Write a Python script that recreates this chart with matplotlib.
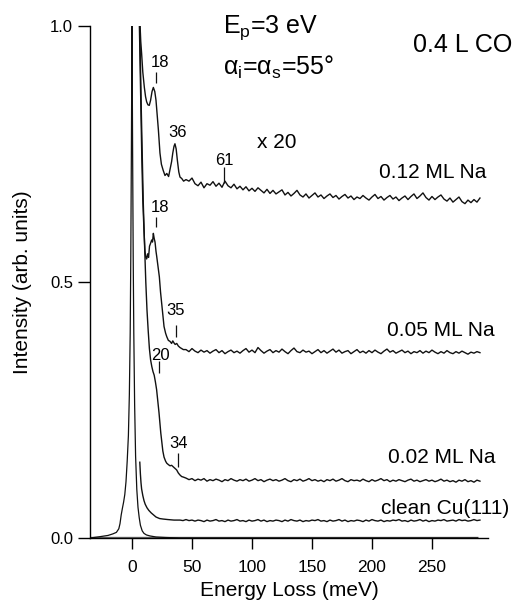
import matplotlib.pyplot as plt
import numpy as np

plt.rcParams["font.family"] = ["Liberation Sans", "DejaVu Sans"]
plt.rcParams["mathtext.fontset"] = "custom"
plt.rcParams["mathtext.rm"] = "Liberation Sans"
plt.rcParams["mathtext.it"] = "Liberation Sans:italic"
plt.rcParams["mathtext.default"] = "regular"

# elastic peak of clean Cu(111), x1
elastic_x = [-35, -27, -20, -16, -13, -11, -10, -9, -8, -7, -6, -5, -4, -3, -2.2, -1.5, -1.0, -0.5, 0,
             0.5, 1.0, 1.5, 2.2, 3, 4, 5, 6, 7, 8.5, 10, 12, 15, 20, 28, 40, 288]
elastic_y = [0, 0.0025, 0.005, 0.008, 0.011, 0.018, 0.028, 0.045, 0.058, 0.07, 0.085, 0.11, 0.15, 0.2,
             0.28, 0.40, 0.55, 0.76, 1.0, 0.76, 0.55, 0.40, 0.26, 0.16, 0.095, 0.06, 0.04, 0.025,
             0.014, 0.009, 0.006, 0.004, 0.002, 0.001, 0.0, 0.0]

# x20 spectra, steep part near the elastic peak
head_012_x = [6.0, 6.7, 7.3, 8.0, 9.0, 10.3, 11.3, 12.2, 13.3, 14.4, 15.5, 16.7, 17.8, 19.0, 20.0, 21.0,
              22.0, 23.3, 24.5, 26.0, 27.5, 29.0, 30.5, 31.7, 33.0, 34.0, 35.0, 35.8, 36.8, 37.8, 39.0,
              40.0, 41.5, 43.0]
head_012_y = [1.04, 1.0, 0.97, 0.947, 0.91, 0.88, 0.862, 0.852, 0.846, 0.845, 0.855, 0.872, 0.88, 0.872,
              0.855, 0.825, 0.797, 0.752, 0.73, 0.718, 0.708, 0.712, 0.706, 0.72, 0.735, 0.752, 0.765,
              0.77, 0.76, 0.738, 0.715, 0.705, 0.702, 0.697]

head_005_x = [6.0, 6.7, 7.5, 8.2, 9.0, 10.0, 10.8, 11.5, 12.2, 13.0, 13.8, 14.6, 15.4, 16.4, 17.1, 17.8,
              18.5, 19.2, 20.0, 20.6, 21.7, 22.8, 23.8, 24.7, 25.7, 26.7, 28.0, 29.0, 30.3, 31.7, 33.0,
              34.0, 35.0, 36.0, 37.3, 38.6, 40.0, 41.4, 42.8]
head_005_y = [1.02, 0.93, 0.83, 0.74, 0.66, 0.60, 0.56, 0.548, 0.545, 0.555, 0.548, 0.57, 0.575, 0.582,
              0.578, 0.595, 0.585, 0.578, 0.56, 0.55, 0.53, 0.51, 0.48, 0.459, 0.435, 0.413, 0.40, 0.393,
              0.386, 0.384, 0.38, 0.385, 0.381, 0.378, 0.38, 0.375, 0.372, 0.37, 0.368]

head_002_x = [6.3, 7.0, 7.8, 8.6, 9.4, 10.5, 11.5, 12.5, 13.5, 14.5, 15.5, 16.5, 17.5, 18.5, 19.5, 20.5,
              21.5, 22.5, 23.3, 24.0, 24.7, 25.7, 26.7, 28.0, 29.0, 30.5, 31.7, 33.0, 34.4, 35.8, 37.2,
              38.6, 40.0, 41.4, 42.8]
head_002_y = [1.02, 0.93, 0.83, 0.74, 0.655, 0.57, 0.50, 0.445, 0.405, 0.37, 0.348, 0.335, 0.325, 0.318,
              0.305, 0.29, 0.268, 0.245, 0.224, 0.205, 0.19, 0.17, 0.158, 0.15, 0.146, 0.143, 0.141,
              0.142, 0.139, 0.136, 0.133, 0.127, 0.123, 0.12, 0.119]

head_cu_x = [6.5, 7.0, 7.5, 8.0, 9.0, 10.0, 11.0, 12.5, 14.0, 16.0, 18.0, 20.0, 23.0, 26.0, 30.0, 35.0,
             40.0, 42.5]
head_cu_y = [0.148, 0.125, 0.108, 0.096, 0.083, 0.073, 0.066, 0.059, 0.054, 0.049, 0.045, 0.041, 0.038,
             0.037, 0.036, 0.035, 0.035, 0.034]

# flat tails, read every 2.5 meV from 45 to 290 meV
tail_012 = [.700, .697, .703, .692, .688, .695, .684, .692, .689, .696,
            .687, .693, .685, .697, .688, .684, .691, .682, .687, .680,
            .686, .678, .683, .677, .684, .679, .674, .681, .673, .679,
            .672, .676, .680, .670, .675, .668, .673, .679, .670, .666,
            .672, .664, .669, .674, .666, .670, .663, .668, .672, .665,
            .669, .662, .667, .671, .664, .668, .661, .666, .663, .669,
            .664, .660, .666, .671, .663, .667, .660, .665, .669, .662,
            .666, .659, .664, .668, .661, .667, .672, .663, .668, .674,
            .665, .660, .667, .661, .666, .670, .662, .658, .664, .656,
            .661, .666, .657, .653, .660, .655, .661, .656, .664]
tail_005 = [.368, .364, .370, .365, .362, .367, .363, .366, .361, .365,
            .368, .362, .366, .360, .364, .367, .362, .365, .361, .366,
            .370, .363, .367, .362, .372, .366, .361, .365, .368, .362,
            .366, .363, .369, .364, .360, .366, .371, .364, .362, .367,
            .363, .365, .360, .364, .368, .362, .366, .361, .365, .369,
            .363, .367, .361, .364, .366, .360, .364, .368, .362, .365,
            .361, .366, .362, .367, .363, .360, .365, .369, .363, .366,
            .361, .364, .367, .362, .365, .360, .364, .362, .366, .361,
            .365, .362, .367, .363, .360, .364, .361, .366, .362, .360,
            .364, .361, .365, .362, .359, .363, .361, .364, .362]
tail_002 = [.117, .114, .116, .112, .115, .113, .116, .111, .114, .112,
            .115, .113, .110, .114, .112, .116, .113, .111, .114, .112,
            .115, .111, .113, .116, .112, .114, .110, .113, .115, .112,
            .114, .111, .113, .116, .112, .110, .114, .112, .115, .111,
            .113, .116, .112, .114, .111, .113, .110, .114, .112, .115,
            .111, .113, .116, .112, .110, .114, .112, .113, .111, .115,
            .112, .110, .114, .111, .113, .116, .112, .114, .110, .113,
            .111, .114, .112, .110, .113, .115, .111, .113, .110, .112,
            .114, .111, .113, .110, .112, .115, .111, .113, .110, .112,
            .109, .113, .111, .114, .110, .112, .109, .113, .111]
tail_cu = [.036, .034, .035, .033, .035, .034, .032, .035, .033, .034,
           .036, .033, .034, .032, .035, .033, .034, .036, .033, .034,
           .032, .035, .033, .034, .036, .033, .035, .032, .034, .033,
           .035, .034, .032, .035, .033, .036, .034, .033, .035, .032,
           .034, .033, .035, .034, .036, .033, .034, .032, .035, .033,
           .034, .036, .033, .035, .032, .034, .033, .035, .034, .032,
           .035, .033, .036, .034, .033, .035, .032, .034, .033, .035,
           .034, .036, .033, .034, .032, .035, .033, .034, .036, .033,
           .035, .032, .034, .033, .035, .034, .036, .033, .034, .035,
           .033, .036, .034, .035, .033, .034, .036, .034, .035]

# peak marks (meV) and labels
mark_x = [20.0, 76.7, 20.0, 36.4, 22.8, 38.1]
mark_y0 = [0.889, 0.693, 0.607, 0.393, 0.322, 0.139]
mark_y1 = [0.910, 0.725, 0.627, 0.416, 0.346, 0.166]
peak_text = ["18", "36", "61", "18", "35", "20", "34"]
peak_tx = [23.3, 38.3, 76.7, 23.3, 36.7, 23.3, 38.8]
peak_ty = [0.920, 0.783, 0.729, 0.637, 0.436, 0.348, 0.176]

trace_text = ["0.12 ML Na", "0.05 ML Na", "0.02 ML Na", "clean Cu(111)"]
trace_tx = [205.8, 212.5, 213.3, 207.5]
trace_ty = [0.703, 0.395, 0.147, 0.047]

fig = plt.figure(figsize=(5.2, 6.04), dpi=100)
ax = fig.add_axes([90 / 520, 66 / 604, 398 / 520, 512 / 604])

ax.hlines(0, elastic_x[0], elastic_x[-1], color="#6a6a6a", lw=2.4, zorder=1)
ax.plot(elastic_x, elastic_y, color="#111111", lw=0.9, zorder=2)

for hx, hy, tail in [(head_012_x, head_012_y, tail_012), (head_005_x, head_005_y, tail_005),
                     (head_002_x, head_002_y, tail_002), (head_cu_x, head_cu_y, tail_cu)]:
    tx = np.linspace(45, 290, len(tail))
    ax.plot(np.concatenate([hx, tx]), np.concatenate([hy, tail]), color="#111111", lw=1.0, zorder=2)

ax.vlines(mark_x, mark_y0, mark_y1, color="#111111", lw=0.9)
for t, x, y in zip(peak_text, peak_tx, peak_ty):
    ax.text(x, y, t, ha="center", va="baseline", fontsize=12)
for t, x, y in zip(trace_text, trace_tx, trace_ty):
    ax.text(x, y, t, ha="left", va="baseline", fontsize=15)

ax.text(104.2, 0.762, "x 20", ha="left", va="baseline", fontsize=15)
ax.text(75.8, 0.986, "E$_p$=3 eV", ha="left", va="baseline", fontsize=18)
ax.text(75.8, 0.904, "α$_i$=α$_s$=55°", ha="left", va="baseline", fontsize=18)
ax.text(234.2, 0.949, "0.4 L CO", ha="left", va="baseline", fontsize=18)

ax.set_xlim(-35, 296.7)
ax.set_ylim(0, 1.0)
ax.set_xticks([0, 50, 100, 150, 200, 250])
ax.set_yticks([0.0, 0.5, 1.0])
ax.set_yticklabels(["0.0", "0.5", "1.0"])
ax.tick_params(axis="x", direction="out", length=8, width=1, labelsize=12.5, pad=8)
ax.tick_params(axis="y", direction="out", length=8.6, width=1, labelsize=12, pad=3.5)
for side in ("top", "right"):
    ax.spines[side].set_visible(False)
for side in ("left", "bottom"):
    ax.spines[side].set_linewidth(1.0)
ax.set_xlabel("Energy Loss (meV)", fontsize=15, labelpad=4)
ax.set_ylabel("Intensity (arb. units)", fontsize=15, labelpad=13)

fig.savefig("out.png", dpi=100)
